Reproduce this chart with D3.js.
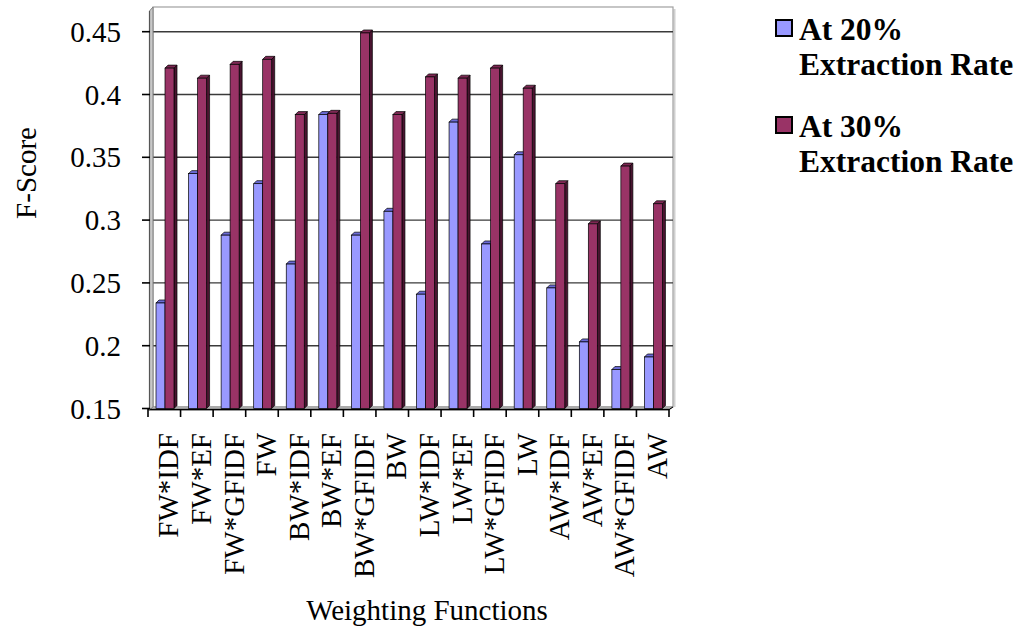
<!DOCTYPE html>
<html>
<head>
<meta charset="utf-8">
<script src="https://cdn.jsdelivr.net/npm/d3@7/dist/d3.min.js"></script>
<style>
  html, body { margin: 0; padding: 0; background: #fff; }
  svg { display: block; }
</style>
</head>
<body>
<svg id="chart" width="1031" height="632" font-family="Liberation Serif, Times New Roman, Tinos, serif"></svg>
<script>
const categories = ["FW*IDF","FW*EF","FW*GFIDF","FW","BW*IDF","BW*EF","BW*GFIDF","BW",
                    "LW*IDF","LW*EF","LW*GFIDF","LW","AW*IDF","AW*EF","AW*GFIDF","AW"];
const series20 = [0.234,0.337,0.288,0.329,0.265,0.384,0.288,0.307,0.241,0.378,0.281,0.352,0.246,0.203,0.181,0.191];
const series30 = [0.421,0.413,0.424,0.428,0.384,0.385,0.449,0.384,0.414,0.413,0.421,0.405,0.329,0.297,0.343,0.313];
const yTicks = [0.15,0.2,0.25,0.3,0.35,0.4,0.45];
const yTickLabels = ["0.15","0.2","0.25","0.3","0.35","0.4","0.45"];
const seriesNames = [["At 20%","Extraction Rate"],["At 30%","Extraction Rate"]];
const yTitle = "F-Score";
const xTitle = "Weighting Functions";

const FONT = "'Liberation Serif', 'Times New Roman', serif";
const svg = d3.select("#chart");

const y = d3.scaleLinear().domain([0.15, 0.45]).range([408.5, 31.7]);
const x = d3.scaleBand().domain(categories).range([148, 669]).paddingInner(0).paddingOuter(0);

const wallL = 153, wallR = 673, wallT = 7, floorY = 407;

svg.append("rect").attr("x", wallL).attr("y", wallT).attr("width", wallR - wallL).attr("height", floorY - wallT)
  .attr("fill", "#fff");
svg.append("line").attr("x1", wallR + 1.5).attr("x2", wallR + 1.5).attr("y1", wallT + 2).attr("y2", floorY)
  .attr("stroke", "#d0d0d0").attr("stroke-width", 2);
svg.append("rect").attr("x", wallL).attr("y", wallT).attr("width", wallR - wallL).attr("height", floorY - wallT)
  .attr("fill", "none").attr("stroke", "#a0a0a0").attr("stroke-width", 1.2);

svg.append("g").selectAll("line").data(yTicks.slice(1)).join("line")
  .attr("x1", wallL).attr("x2", wallR)
  .attr("y1", d => y(d)).attr("y2", d => y(d))
  .attr("stroke", "#3a3a3a").attr("stroke-width", 1.4);

svg.append("polygon")
  .attr("points", [[149.5, 11], [wallL, wallT], [wallL, floorY], [149.5, 410]].map(p => p.join(",")).join(" "))
  .attr("fill", "#c8c8c8").attr("stroke", "#808080").attr("stroke-width", 1);

svg.append("polygon")
  .attr("points", [[149.5, 410], [wallL, floorY], [wallR, floorY], [669, 410]].map(p => p.join(",")).join(" "))
  .attr("fill", "#c8c8c8").attr("stroke", "#808080").attr("stroke-width", 0.8);

const bw = 9, dx = 3, dy = 3, off = 8;
const base = y(0.15);
const styles = [
  {front: "#9999ff", side: "#4d4d99", top: "#6b6bd6"},
  {front: "#993366", side: "#4a1430", top: "#7d2853"}
];
function drawBar(g, x0, v, st) {
  const yt = y(v);
  g.append("polygon")
    .attr("points", [[x0 + bw, yt], [x0 + bw + dx, yt - dy], [x0 + bw + dx, base - dy], [x0 + bw, base]].map(p => p.join(",")).join(" "))
    .attr("fill", st.side).attr("stroke", "#000").attr("stroke-width", 0.7);
  g.append("polygon")
    .attr("points", [[x0, yt], [x0 + dx, yt - dy], [x0 + bw + dx, yt - dy], [x0 + bw, yt]].map(p => p.join(",")).join(" "))
    .attr("fill", st.top).attr("stroke", "#000").attr("stroke-width", 0.7);
  g.append("rect").attr("x", x0).attr("y", yt).attr("width", bw).attr("height", base - yt)
    .attr("fill", st.front).attr("stroke", "#000").attr("stroke-width", 0.7);
}
const barsG = svg.append("g");
categories.forEach((c, i) => {
  const x0 = x(c) + off;
  drawBar(barsG, x0, series20[i], styles[0]);
  drawBar(barsG, x0 + bw, series30[i], styles[1]);
});

svg.append("line").attr("x1", 148).attr("x2", 669).attr("y1", 409.5).attr("y2", 409.5)
  .attr("stroke", "#000").attr("stroke-width", 1.5);
svg.append("line").attr("x1", 669).attr("x2", wallR).attr("y1", 409.5).attr("y2", floorY)
  .attr("stroke", "#000").attr("stroke-width", 1);
const xTickPos = categories.map(c => x(c)).concat([x.range()[1]]);
svg.append("g").selectAll("line").data(xTickPos).join("line")
  .attr("x1", d => d).attr("x2", d => d).attr("y1", 409).attr("y2", 417)
  .attr("stroke", "#000").attr("stroke-width", 1.6);

svg.append("line").attr("x1", 149.5).attr("x2", 149.5).attr("y1", 11).attr("y2", 410)
  .attr("stroke", "#555").attr("stroke-width", 1.2);
svg.append("g").selectAll("line").data(yTicks).join("line")
  .attr("x1", 142).attr("x2", 150).attr("y1", d => y(d)).attr("y2", d => y(d))
  .attr("stroke", "#000").attr("stroke-width", 1.6);

svg.append("g").selectAll("text").data(yTicks).join("text")
  .attr("x", 121).attr("y", d => y(d)).attr("dy", "0.35em")
  .attr("text-anchor", "end").attr("font-size", 29).style("font-family", FONT)
  .text((d, i) => yTickLabels[i]);

svg.append("g").selectAll("text").data(categories).join("text")
  .attr("transform", d => `translate(${x(d) + x.bandwidth() / 2 + 4},433) rotate(-90)`)
  .attr("dy", "0.35em").attr("text-anchor", "end").attr("font-size", 29).style("font-family", FONT)
  .text(d => d);

svg.append("text").attr("transform", "translate(36,173) rotate(-90)")
  .attr("text-anchor", "middle").attr("font-size", 29).style("font-family", FONT).text(yTitle);
svg.append("text").attr("x", 427).attr("y", 620)
  .attr("text-anchor", "middle").attr("font-size", 29).style("font-family", FONT).text(xTitle);

const legendFill = [styles[0].front, styles[1].front];
const legTop = [20, 117];
seriesNames.forEach((lines, i) => {
  svg.append("rect").attr("x", 776).attr("y", legTop[i]).attr("width", 16).attr("height", 16)
    .attr("fill", legendFill[i]).attr("stroke", "#000").attr("stroke-width", 2);
  lines.forEach((t, j) => {
    svg.append("text").attr("x", 799).attr("y", legTop[i] + 20 + j * 34.5)
      .attr("font-size", 31.5).attr("font-weight", "bold").style("font-family", FONT).text(t);
  });
});
</script>
</body>
</html>
